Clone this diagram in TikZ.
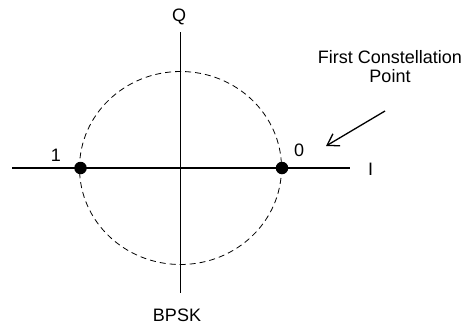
\documentclass[tikz,border=0pt]{standalone}
\usepackage{fontspec}
\setmainfont{Liberation Sans}
\usetikzlibrary{arrows.meta}
\begin{document}
\begin{tikzpicture}[x=1pt,y=-1pt,
  axis/.style={line width=1.6pt},
  dotpt/.style={circle,fill=black,inner sep=0pt,minimum size=12.5pt},
  lbl/.style={font=\fontsize{18}{19.2}\selectfont,inner sep=0pt,anchor=base},
  ring/.style={line width=0.8pt,dash pattern=on 6pt off 4pt}]
\useasboundingbox (0,0) rectangle (465,327);
\coordinate (iL) at (12,168);
\coordinate (iR) at (350,168);
\coordinate (qT) at (180.5,32);
\coordinate (qB) at (180.5,293);
\coordinate (o) at (180.5,168);
\draw[ring] (o) ellipse [x radius=101, y radius=96.5];
\draw[axis] (iL) -- (iR);
\draw[axis] (qT) -- (qB);
\node[dotpt] (p1) at (80.5,168) {};
\node[dotpt] (p0) at (282,168) {};
\node[lbl] (q) at (179,21) {Q};
\node[lbl] (i) at (370.5,175) {I};
\node[lbl] (one) at (56,161) {1};
\node[lbl] (zero) at (299,156) {0};
\node[lbl] (bpsk) at (177,321.5) {BPSK};
\node[lbl,align=center] (fcp) at (390,82.5) {First Constellation\\Point};
\coordinate (aS) at (385,111);
\coordinate (aE) at (326,146);
\draw[line width=1.3pt,-{Straight Barb[length=11pt,width=14pt,line width=1.3pt]}] (aS) -- (aE);
\end{tikzpicture}
\end{document}
